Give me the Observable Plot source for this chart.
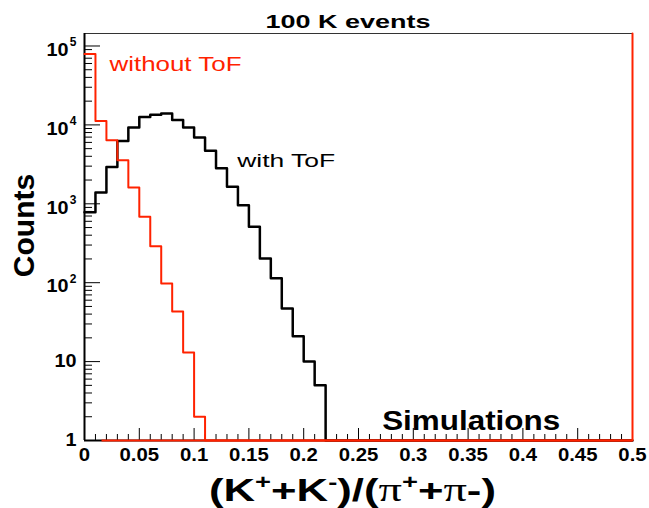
<!DOCTYPE html>
<html>
<head>
<meta charset="utf-8">
<script src="https://cdn.jsdelivr.net/npm/d3@7"></script>
<script src="https://cdn.jsdelivr.net/npm/@observablehq/plot@0.6"></script>
<style>
  body { margin: 0; background: #fff; }
  svg { font-family: "Liberation Sans", Arial, sans-serif; background: #fff; }
</style>
</head>
<body>
<div id="chart"></div>
<script>
// ---- data ----
const binEdges = [0, 0.01, 0.02, 0.03, 0.04, 0.05, 0.06, 0.07, 0.08, 0.09, 0.10,
                  0.11, 0.12, 0.13, 0.14, 0.15, 0.16, 0.17, 0.18, 0.19, 0.20, 0.21, 0.22];
const withToF = [780, 1390, 2920, 6270, 9250, 12600, 13400, 13900, 11500, 9250, 6900,
                 4700, 2830, 1640, 960, 510, 203, 114, 47, 21, 10, 5];
const withoutToF = [79000, 11200, 6400, 3570, 1610, 685, 290, 98, 43, 13, 2];
const xTickLabels = [0, 0.05, 0.1, 0.15, 0.2, 0.25, 0.3, 0.35, 0.4, 0.45, 0.5];
const yTickValues = [1, 10, 100, 1000, 10000, 100000];
const xDomain = [0, 0.5];
const yDomain = [1, 1.44e5];
const titleText = "100 K events";
const yLabelText = "Counts";
const seriesLabels = ["without ToF", "with ToF"];
const noteText = "Simulations";

const RED = "#ff2200";

// step outlines (histogram drawn as in ROOT, empty bins at the floor)
function outline(counts, closeToTop) {
  const pts = counts.map((c, i) => ({x: binEdges[i], y: c}));
  pts.push({x: binEdges[counts.length], y: yDomain[0]});
  pts.push({x: xDomain[1], y: yDomain[0]});
  if (closeToTop) pts.push({x: xDomain[1], y: yDomain[1]});
  return pts;
}
const blackPts = outline(withToF, false);
const redPts = outline(withoutToF, true);

const xMinor = d3.range(0, 51).map(i => i / 100).filter(v => Math.round(v * 100) % 5 !== 0);
const yMinor = yTickValues.slice(0, -1).flatMap(d => [2,3,4,5,6,7,8,9].map(k => d * k));

const plot = Plot.plot({
  width: 649,
  height: 508,
  marginLeft: 84,
  marginRight: 17,
  marginTop: 33,
  marginBottom: 68,
  x: {domain: xDomain},
  y: {type: "log", domain: yDomain},
  marks: [
    Plot.frame({stroke: "#333", strokeWidth: 1}),
    // x ticks (inward)
    Plot.axisX({ticks: xTickLabels, tickSize: -12, tickFormat: () => "", label: null}),
    Plot.axisX({ticks: xMinor, tickSize: -6, tickFormat: () => "", label: null}),
    Plot.axisX({ticks: xTickLabels, tickSize: 0, tickPadding: 8, fontSize: 18, fontWeight: "bold",
                tickFormat: d => String(d), label: null, className: "xtl"}),
    // y ticks (inward)
    Plot.axisY({ticks: yTickValues, tickSize: -16, tickFormat: () => "", label: null}),
    Plot.axisY({ticks: yMinor, tickSize: -8, tickFormat: () => "", label: null}),
    // y tick labels: 1, 10, 10^n
    Plot.text(yTickValues.filter(v => v < 100), {
      y: d => d, frameAnchor: "left", dx: -8, textAnchor: "end", lineAnchor: "middle",
      text: d => String(d), fontSize: 18, fontWeight: "bold", className: "ytl"
    }),
    Plot.text(yTickValues.filter(v => v >= 100), {
      y: d => d, frameAnchor: "left", dx: -16, dy: 4, textAnchor: "end", lineAnchor: "middle",
      text: () => "10", fontSize: 18, fontWeight: "bold", className: "ytl"
    }),
    Plot.text(yTickValues.filter(v => v >= 100), {
      y: d => d, frameAnchor: "left", dx: -8, dy: -4, textAnchor: "end", lineAnchor: "middle",
      text: d => String(Math.round(Math.log10(d))), fontSize: 12, fontWeight: "bold"
    }),
    // axis lines
    Plot.ruleX([xDomain[0]], {stroke: "#000", strokeWidth: 2}),
    Plot.ruleY([yDomain[0]], {stroke: "#000", strokeWidth: 2}),
    // histograms
    Plot.line(blackPts, {x: "x", y: "y", curve: "step-after", stroke: "#000", strokeWidth: 2.5}),
    Plot.line(redPts, {x: "x", y: "y", curve: "step-after", stroke: RED, strokeWidth: 2}),
    Plot.ruleY([yDomain[0]], {x1: 0.016, x2: xDomain[1], stroke: RED, strokeWidth: 2}),
    // annotations
    Plot.text([titleText], {x: [0.2404], frameAnchor: "top", dy: -5.3, lineAnchor: "bottom",
      fontSize: 19, fontWeight: "bold", fill: "#000", className: "ttl"}),
    Plot.text([seriesLabels[0]], {x: [0.0228], y: [4.8e4], textAnchor: "start", lineAnchor: "bottom",
      fontSize: 21, fill: RED, className: "lwo"}),
    Plot.text([seriesLabels[1]], {x: [0.1393], y: [2910], textAnchor: "start", lineAnchor: "bottom",
      fontSize: 19, fill: "#000", className: "lw"}),
    Plot.text([noteText], {x: [0.2716], y: [1.34], textAnchor: "start", lineAnchor: "bottom",
      fontSize: 28, fontWeight: "bold", fill: "#000", className: "note"}),
    Plot.text([yLabelText], {frameAnchor: "left", rotate: -90, dx: -50.7, dy: -11.5,
      textAnchor: "middle", lineAnchor: "bottom", fontSize: 30, fontWeight: "bold", fill: "#000"}),
    Plot.text(["(K+ + K-)/(π+ + π-)"], {x: [0.2445], frameAnchor: "bottom", dy: 60, lineAnchor: "bottom",
      fontSize: 32, fontWeight: "bold", fill: "#000", className: "xlab"})
  ]
});

document.getElementById("chart").append(plot);
const s = d3.select(plot);

// find the <text> elements of a mark, by class or by content
function texts(cls, content) {
  let nodes = [];
  if (cls) {
    plot.querySelectorAll("." + cls).forEach(n => {
      if (n.tagName === "text") nodes.push(n);
      else n.querySelectorAll("text").forEach(t => nodes.push(t));
    });
  }
  if (!nodes.length && content) {
    plot.querySelectorAll("text").forEach(t => { if (content.includes(t.textContent)) nodes.push(t); });
  }
  return d3.selectAll(nodes);
}

// x-axis label with superscripts
const xl = texts("xlab", ["(K+ + K-)/(π+ + π-)"]);
xl.text(null);
const parts = [["(K", 0], ["+", 1], ["+K", 0], ["-", 1], [")/(", 0], ["π", 2], ["+", 1], ["+", 0], ["π", 2], ["-)", 0]];
let raised = false;
for (const [t, kind] of parts) {
  const ts = xl.append("tspan").text(t);
  if (kind === 1) {
    ts.attr("font-size", 20);
    if (!raised) { ts.attr("dy", -12); raised = true; }
  } else {
    if (raised) { ts.attr("dy", 12); raised = false; }
    if (kind === 2) ts.attr("font-family", "'Liberation Serif', serif").attr("font-weight", "normal").attr("font-size", 34);
  }
}

// widen glyph runs to match the reference's horizontally wide lettering
function setWidth(sel, w) {
  sel.each(function() {
    this.setAttribute("textLength", w);
    this.setAttribute("lengthAdjust", "spacingAndGlyphs");
  });
}
function stretch(sel, k) {
  sel.each(function() {
    const w = this.getComputedTextLength();
    this.setAttribute("textLength", w * k);
    this.setAttribute("lengthAdjust", "spacingAndGlyphs");
  });
}
setWidth(texts("ttl", [titleText]), 165);
setWidth(texts("lwo", [seriesLabels[0]]), 132);
setWidth(texts("lw", [seriesLabels[1]]), 98);
setWidth(texts("note", [noteText]), 178);
setWidth(xl, 287);
stretch(texts("xtl", xTickLabels.map(String)), 1.13);
stretch(texts("ytl", ["1", "10"]), 1.1);
</script>
</body>
</html>
